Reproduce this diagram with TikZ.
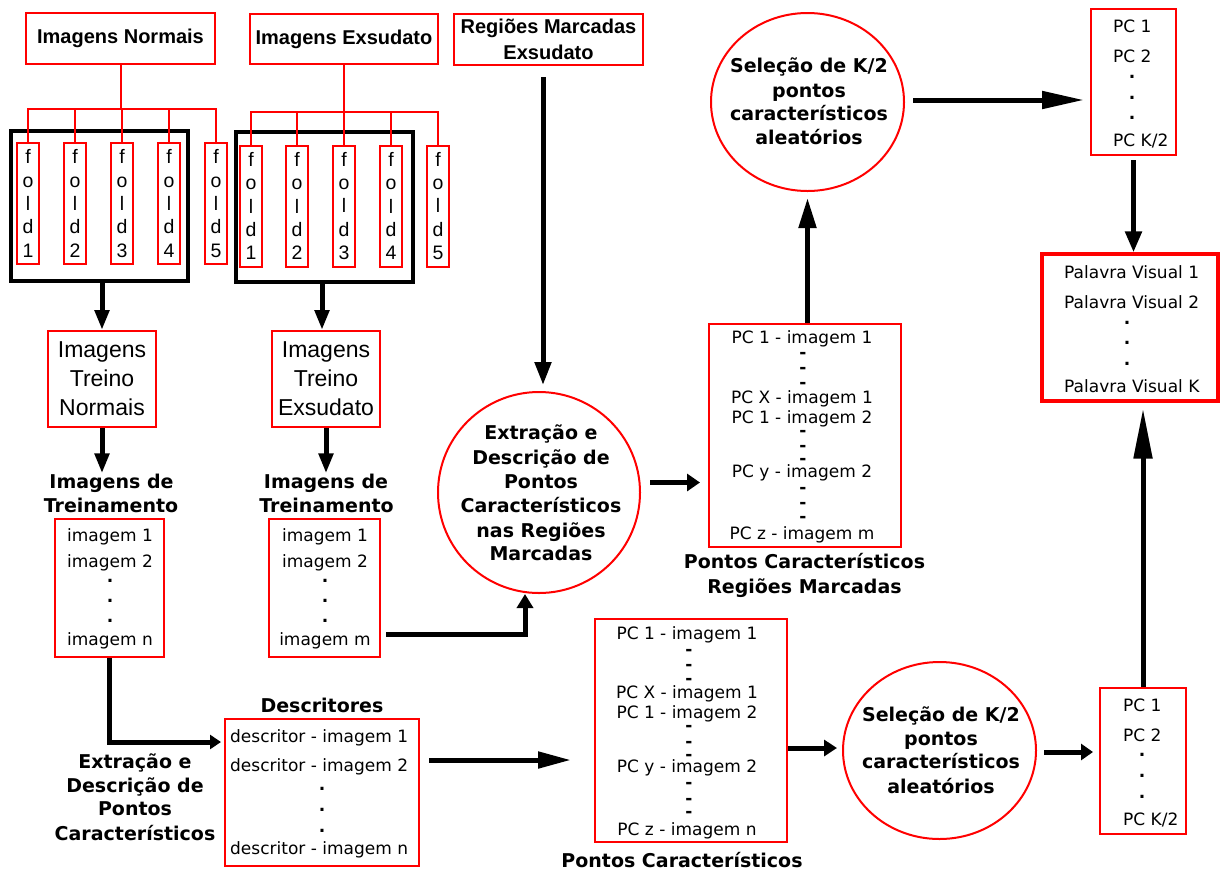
\documentclass[tikz,border=0pt]{standalone}
\usepackage{fontspec}
\setmainfont{DejaVu Sans}
\newfontfamily\arialf{Liberation Sans}
\usetikzlibrary{arrows.meta,shapes.geometric,calc}
\tikzset{
  redbox/.style={draw=red, line width=2pt, inner sep=0pt, rectangle},
  blackbox/.style={draw=black, line width=3.3pt, inner sep=0pt, rectangle},
  redcirc/.style={draw=red, line width=2pt, ellipse, inner sep=0pt},
  topbox/.style={redbox, font=\arialf\bfseries\fontsize{20}{26}\selectfont, align=center},
  foldbox/.style={redbox, minimum width=22pt, minimum height=121pt, font=\arialf\fontsize{19.5}{23.3}\selectfont, align=center},
  treinobox/.style={redbox, minimum width=108pt, minimum height=96pt, font=\arialf\fontsize{23}{29}\selectfont, align=center},
  lst/.style={font=\fontsize{17}{20}\selectfont, inner sep=0pt, anchor=base},
  lstl/.style={lst, anchor=base west},
  dotl/.style={font=\bfseries\fontsize{17}{20}\selectfont, inner sep=0pt, anchor=base},
  lbl/.style={font=\bfseries\fontsize{19}{24}\selectfont, inner sep=0pt, anchor=base},
  redline/.style={draw=red, line width=2pt},
  arr/.style 2 args={draw=black, line width=5pt, -{Triangle[length=#1pt, width=#2pt]}},
}
\begin{document}
\begin{tikzpicture}[x=1pt, y=-1pt]
\useasboundingbox (0,0) rectangle (1220,871);

% ---------- top boxes ----------
\node[topbox, minimum width=189pt, minimum height=51pt] (imgN) at (120.5,38.5) {Imagens Normais};
\node[topbox, minimum width=188pt, minimum height=50pt] (imgE) at (344,39) {Imagens Exsudato};
\node[topbox, minimum width=189pt, minimum height=51pt] (reg) at (548.5,39.5) {Regiões Marcadas\\Exsudato};

% ---------- black fold groups ----------
\node[blackbox, minimum width=177pt, minimum height=150pt] (bbN) at (99.5,206) {};
\node[blackbox, minimum width=177pt, minimum height=150pt] (bbE) at (324.5,207) {};

\foreach \i/\x in {1/28,2/75,3/122,4/169,5/216}
  \node[foldbox] (fN\i) at (\x,203.5) {f\\o\\l\\d\\\i};
\foreach \i/\x in {1/251,2/297,3/344,4/391,5/438}
  \node[foldbox] (fE\i) at (\x,206) {f\\o\\l\\d\\\i};

% red trees
\draw[redline] (imgN.south) -- (imgN.south |- 0,109);
\draw[redline] (fN1.north) |- (fN5.north |- 0,109) -- (fN5.north);
\foreach \i in {2,3,4} \draw[redline] (fN\i.north) -- (fN\i.north |- 0,109);
\draw[redline] (imgE.south) -- (imgE.south |- 0,112);
\draw[redline] (fE1.north) |- (fE5.north |- 0,112) -- (fE5.north);
\foreach \i in {2,3,4} \draw[redline] (fE\i.north) -- (fE\i.north |- 0,112);

% ---------- treino boxes ----------
\node[treinobox] (trN) at (102,379) {Imagens\\Treino\\Normais};
\node[treinobox] (trE) at (326,379) {Imagens\\Treino\\Exsudato};

\draw[arr={20}{14}] (bbN.south -| trN.north) -- (trN.north);
\draw[arr={20}{14}] (bbE.south -| 322,0) -- (trE.north -| 322,0);

% labels Imagens de Treinamento
\node[lbl] (lbN1) at (111.5,488) {Imagens de};
\node[lbl] (lbN2) at (111,512) {Treinamento};
\node[lbl] (lbE1) at (326,488) {Imagens de};
\node[lbl] (lbE2) at (326.5,512) {Treinamento};

\draw[arr={20}{14}] (trN.south) -- (trN.south |- lbN1.north);
\draw[arr={20}{14}] (trE.south) -- (trE.south |- lbE1.north);

% ---------- image lists ----------
\node[redbox, minimum width=109pt, minimum height=138pt] (lsN) at (109.5,588) {};
\foreach \t/\y [count=\i] in {imagem 1/541, imagem 2/567, imagem n/645}
  \node[lst] (lsNt\i) at (110,\y) {\t};
\foreach \y [count=\i] in {582,602,622}
  \node[dotl] (lsNd\i) at (110,\y) {.};

\node[redbox, minimum width=111pt, minimum height=138pt] (lsE) at (324.5,588) {};
\foreach \t/\y [count=\i] in {imagem 1/541, imagem 2/567, imagem m/645}
  \node[lst] (lsEt\i) at (325,\y) {\t};
\foreach \y [count=\i] in {582,602,622}
  \node[dotl] (lsEd\i) at (325,\y) {.};

% ---------- extraction circle (middle) ----------
\node[redcirc, minimum width=202pt, minimum height=201pt] (circExt) at (539,492.5) {};
\foreach \t/\y [count=\i] in {Extração e/439, Descrição de/464, Pontos/488, Característicos/512, nas Regiões/537, Marcadas/560}
  \node[lbl] (cx\i) at (541,\y) {\t};

\draw[arr={23}{16}, shorten <=11pt, shorten >=6pt] ([xshift=-5.5pt]reg.south) -- ([xshift=-5.5pt]reg.south |- circExt.north);
\draw[arr={14}{16}, shorten <=5pt] ([yshift=-46pt]lsE.east) -| ([xshift=-14pt]circExt.south);

% ---------- upper PC list ----------
\node[redbox, minimum width=192pt, minimum height=223pt] (ppU) at (805,435.5) {};
\foreach \t/\y [count=\i] in {PC 1 - imagem 1/343, PC X - imagem 1/403, PC 1 - imagem 2/423, PC y - imagem 2/477, PC z - imagem m/539}
  \node[lst] (ppUt\i) at (802,\y) {\t};
\foreach \y [count=\i] in {358,373,388,436,451,464,493,508,522}
  \node[dotl] (ppUd\i) at (803,\y) {-};
\node[lbl] (ppUl1) at (804.5,568) {Pontos Característicos};
\node[lbl] (ppUl2) at (804.5,593) {Regiões Marcadas};

\draw[arr={13}{17}, shorten <=9pt, shorten >=8pt] ([yshift=10pt]circExt.east) -- ([yshift=10pt]circExt.east -| ppU.west);

% ---------- top selection circle ----------
\node[redcirc, minimum width=193pt, minimum height=178pt] (circS1) at (807.5,102) {};
\foreach \t/\y [count=\i] in {{Seleção de K/2}/72, pontos/97, característicos/120, aleatórios/144}
  \node[lbl] (cs1\i) at (809,\y) {\t};

\draw[arr={30}{17}, shorten >=6pt] (ppU.north -| circS1.south) -- (circS1.south);

% ---------- top right PC list ----------
\node[redbox, minimum width=85pt, minimum height=146pt] (pcT) at (1133.5,82) {};
\foreach \t/\y [count=\i] in {PC 1/32, PC 2/62, {PC K/2}/146}
  \node[lstl] (pcTt\i) at (1113,\y) {\t};
\foreach \y [count=\i] in {78,99,119}
  \node[dotl] (pcTd\i) at (1132,\y) {.};

\draw[arr={42}{17}, shorten <=8pt, shorten >=6pt] ([yshift=2pt]circS1.east) -- ([yshift=2pt]circS1.east -| pcT.west);

% ---------- palavra visual ----------
\node[redbox, line width=3.2pt, minimum width=176pt, minimum height=147pt] (pal) at (1130,327.5) {};
\foreach \t/\y [count=\i] in {Palavra Visual 1/278, Palavra Visual 2/308, Palavra Visual K/392}
  \node[lstl] (palt\i) at (1064,\y) {\t};
\foreach \y [count=\i] in {324,344,365}
  \node[dotl] (pald\i) at (1127,\y) {.};

\draw[arr={21}{16}, shorten <=4pt] (pcT.south) -- (pal.north -| pcT.south);

% ---------- descriptors ----------
\node[redbox, minimum width=194pt, minimum height=147pt] (descr) at (322,792.5) {};
\foreach \t/\y [count=\i] in {descritor - imagem 1/742, descritor - imagem 2/771, descritor - imagem n/854}
  \node[lstl] (dst\i) at (230,\y) {\t};
\foreach \y [count=\i] in {790,811,832}
  \node[dotl] (dsd\i) at (322,\y) {.};
\node[lbl] (dsl) at (322,712) {Descritores};
\foreach \t/\y [count=\i] in {Extração e/768, Descrição de/792, Pontos/815, Característicos/840}
  \node[lbl] (exl\i) at (135,\y) {\t};

\draw[arr={11}{14}, shorten >=3pt] (lsN.south) |- ([yshift=50.5pt]descr.west);

% ---------- lower PC list ----------
\node[redbox, minimum width=192pt, minimum height=223pt] (ppL) at (691,730.5) {};
\foreach \t/\y [count=\i] in {PC 1 - imagem 1/639, PC X - imagem 1/698, PC 1 - imagem 2/718, PC y - imagem 2/772, PC z - imagem n/835}
  \node[lst] (ppLt\i) at (687,\y) {\t};
\foreach \y [count=\i] in {655,670,684,731,747,760,788,804,817}
  \node[dotl] (ppLd\i) at (689,\y) {-};
\node[lbl] (ppLl) at (682,867) {Pontos Característicos};

\draw[arr={33}{16}, shorten <=9pt, shorten >=23pt] ([yshift=32.5pt]descr.east) -- ([yshift=32.5pt]descr.east -| ppL.west);

% ---------- lower selection circle ----------
\node[redcirc, minimum width=193pt, minimum height=177pt] (circS2) at (939.5,750.5) {};
\foreach \t/\y [count=\i] in {{Seleção de K/2}/721, pontos/745, característicos/768, aleatórios/793}
  \node[lbl] (cs2\i) at (941,\y) {\t};

\draw[arr={13}{16}, shorten >=5pt] ([yshift=-17.5pt]ppL.east) -- ([yshift=-17.5pt]ppL.east -| circS2.west);

% ---------- bottom right PC list ----------
\node[redbox, minimum width=86pt, minimum height=146pt] (pcB) at (1143,761) {};
\foreach \t/\y [count=\i] in {PC 1/711, PC 2/741, {PC K/2}/825}
  \node[lstl] (pcBt\i) at (1123,\y) {\t};
\foreach \y [count=\i] in {756,777,798}
  \node[dotl] (pcBd\i) at (1142,\y) {.};

\draw[arr={12}{16}, shorten <=7pt, shorten >=6pt] ([yshift=-1.5pt]circS2.east) -- ([yshift=-1.5pt]circS2.east -| pcB.west);
\draw[arr={50}{18}, shorten >=6pt] (pcB.north) -- (pal.south -| pcB.north);
\end{tikzpicture}
\end{document}
